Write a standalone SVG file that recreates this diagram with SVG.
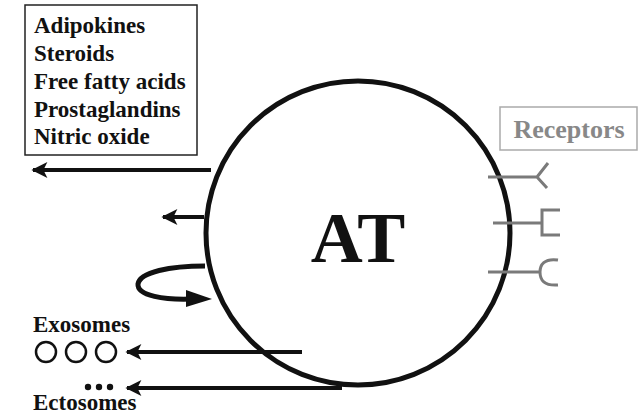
<svg xmlns="http://www.w3.org/2000/svg" width="640" height="419" viewBox="0 0 640 419">
<style>
.t{font-family:"Liberation Serif","Times New Roman",serif;font-weight:bold;fill:#111}
.ln{stroke:#111;stroke-width:4;fill:none}
.rc{stroke:#7a7a7a;stroke-width:3;fill:none}
</style>
<defs>
<marker id="ah" viewBox="0 0 10 10" refX="9" refY="5" markerWidth="5" markerHeight="4" orient="auto" markerUnits="strokeWidth">
<path d="M0,0 L10,5 L0,10 L2.5,5 Z" fill="#111"/>
</marker>
</defs>
<rect width="640" height="419" fill="#fff"/>
<g id="secreted">
<rect x="25" y="5" width="172" height="150" fill="none" stroke="#222" stroke-width="1.5"/>
<text class="t" x="34" y="33" font-size="23">Adipokines</text>
<text class="t" x="34" y="61" font-size="23">Steroids</text>
<text class="t" x="34" y="89" font-size="23">Free fatty acids</text>
<text class="t" x="34" y="117" font-size="23">Prostaglandins</text>
<text class="t" x="34" y="144" font-size="23">Nitric oxide</text>
</g>
<g id="AT">
<circle cx="358" cy="233" r="152" fill="none" stroke="#111" stroke-width="5"/>
<text class="t" x="358" y="262" font-size="72" text-anchor="middle">AT</text>
</g>
<g id="receptors">
<rect x="500" y="107" width="137" height="43" fill="none" stroke="#aaa" stroke-width="1.5"/>
<text class="t" x="569" y="138" font-size="26" text-anchor="middle" style="fill:#888">Receptors</text>
<path class="rc" d="M488,177 H537 M537,177 L548,163 M537,177 L547,188"/>
<path class="rc" d="M493,223 H542 M560,210 H542 V235 H560"/>
<path class="rc" d="M488,272 H540 M558,260 C544,258 540,265 540,272 C540,280 544,286 558,285"/>
</g>
<g id="exosomes">
<text class="t" x="33" y="332" font-size="23">Exosomes</text>
<circle cx="46" cy="352" r="10" fill="none" stroke="#111" stroke-width="2.5"/>
<circle cx="76" cy="352" r="10" fill="none" stroke="#111" stroke-width="2.5"/>
<circle cx="106" cy="352" r="10" fill="none" stroke="#111" stroke-width="2.5"/>
</g>
<g id="ectosomes">
<circle cx="88" cy="387" r="3.2" fill="#111"/>
<circle cx="99" cy="387" r="3.2" fill="#111"/>
<circle cx="110" cy="387" r="3.2" fill="#111"/>
<text class="t" x="33" y="410" font-size="23">Ectosomes</text>
</g>
<g id="connectors">
<path class="ln" d="M211,170 H33" marker-end="url(#ah)"/>
<path class="ln" d="M204,217 H163" marker-end="url(#ah)"/>
<path class="ln" d="M302,352 H127" marker-end="url(#ah)"/>
<path class="ln" d="M342,388 H127" marker-end="url(#ah)"/>
<path d="M205,266 C170,266 140,272 138,284 C137,296 165,300 192,299" stroke="#111" stroke-width="5" fill="none"/>
<path d="M186,290 L212,299 L186,307 Z" fill="#111"/>
</g>
</svg>
